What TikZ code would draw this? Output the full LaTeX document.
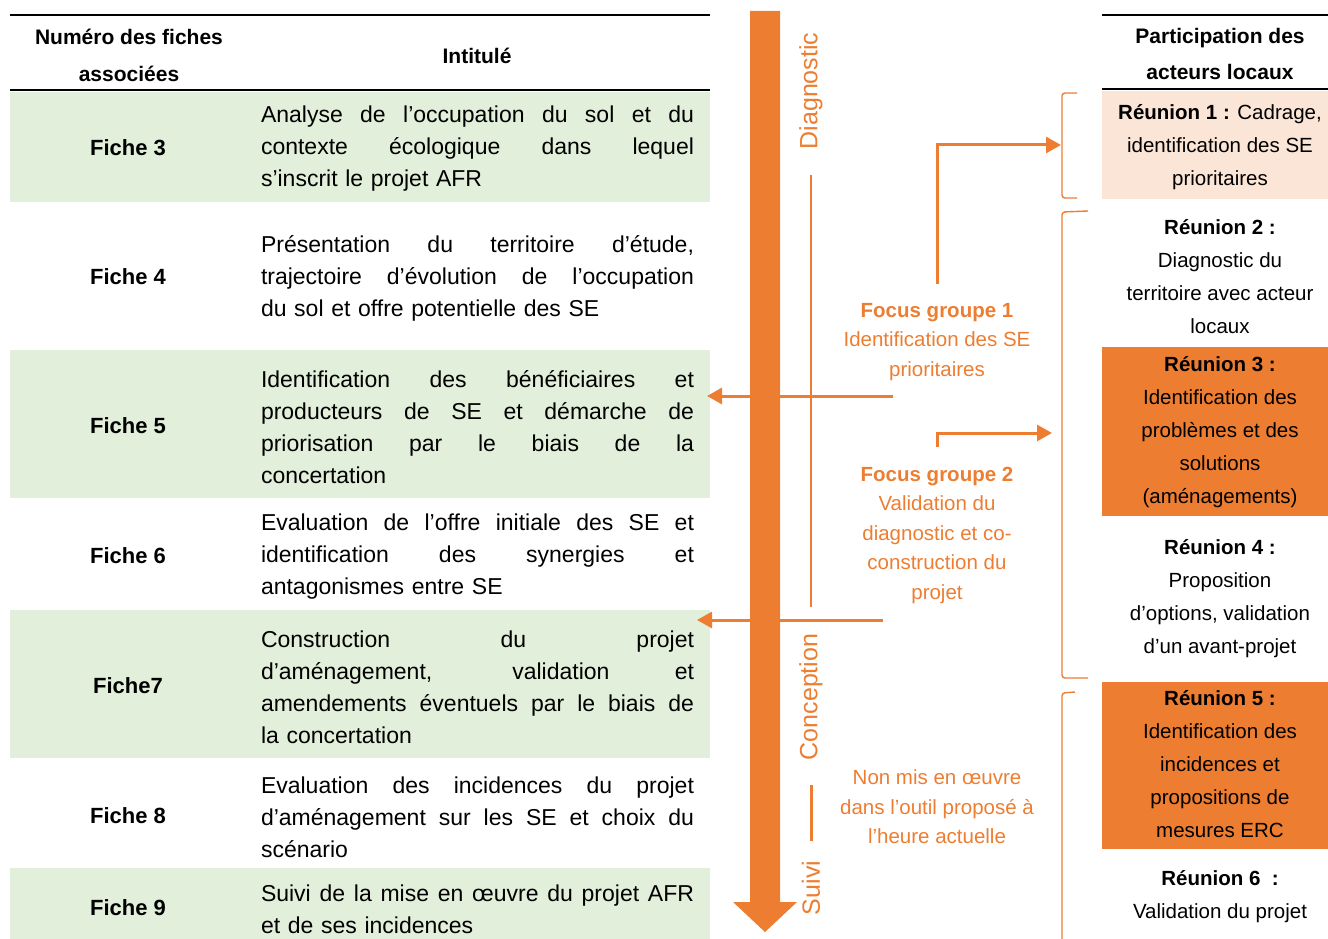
\documentclass[tikz,border=0pt]{standalone}
\usepackage{fontspec}
\setmainfont{Liberation Sans}
\usetikzlibrary{arrows.meta}
\definecolor{orng}{HTML}{ED7D31}
\definecolor{lgreen}{HTML}{E2EFDA}
\definecolor{peach}{HTML}{FBE5D6}
\newlength{\jw}
\setlength{\jw}{433pt}
\newcommand{\jl}[1]{\makebox[\jw][s]{\spaceskip=0pt\relax\xspaceskip=0pt\relax #1}}
\begin{document}
\begin{tikzpicture}[x=1pt,y=-1pt,
  rule/.style={line width=2.5pt, black},
  hdr/.style={font=\fontsize{21}{37}\selectfont\bfseries, align=center, inner sep=0pt},
  fichelbl/.style={font=\fontsize{22}{26}\selectfont\bfseries, inner sep=0pt},
  bodytxt/.style={font=\fontsize{23}{32}\selectfont, text width=433pt, align=left, inner sep=0pt},
  phase/.style={font=\fontsize{25}{30}\selectfont, text=orng, rotate=90, inner sep=0pt},
  orgtxt/.style={font=\fontsize{20.5}{29.5}\selectfont, text=orng, align=center, inner sep=0pt},
  rtxt/.style={font=\fontsize{20.5}{33}\selectfont, align=center, inner sep=0pt},
  orarrow/.style={orng, line width=3pt, -{Triangle[length=15pt,width=16pt]}},
  brace/.style={orng, line width=1.4pt, rounded corners=3pt},
]
\useasboundingbox (0,0) rectangle (1328,939);

% ---------- left table ----------
\fill[lgreen] (10,92) rectangle (710,202);
\fill[lgreen] (10,350) rectangle (710,498);
\fill[lgreen] (10,610) rectangle (710,758);
\fill[lgreen] (10,868) rectangle (710,939);
\draw[rule] (10,15) -- (710,15);
\draw[rule] (10,90) -- (710,90);

\node[hdr] (hnum) at (129,55.5) {Numéro des fiches\\associées};
\node[hdr] (hint) at (477,56) {Intitulé};

\node[fichelbl] (f3) at (128,148) {Fiche 3};
\node[fichelbl] (f4) at (128,277) {Fiche 4};
\node[fichelbl] (f5) at (128,426) {Fiche 5};
\node[fichelbl] (f6) at (128,556) {Fiche 6};
\node[fichelbl] (f7) at (128,686) {Fiche7};
\node[fichelbl] (f8) at (128,816) {Fiche 8};
\node[fichelbl] (f9) at (128,908) {Fiche 9};

\node[bodytxt] (t3) at (477.5,149) {\jl{Analyse de l’occupation du sol et du}\\
\jl{contexte écologique dans lequel}\\
s’inscrit le projet AFR};
\node[bodytxt] (t4) at (477.5,278) {\jl{Présentation du territoire d’étude,}\\
\jl{trajectoire d’évolution de l’occupation}\\
du sol et offre potentielle des SE};
\node[bodytxt] (t5) at (477.5,427) {\jl{Identification des bénéficiaires et}\\
\jl{producteurs de SE et démarche de}\\
\jl{priorisation par le biais de la}\\
concertation};
\node[bodytxt] (t6) at (477.5,557) {\jl{Evaluation de l’offre initiale des SE et}\\
\jl{identification des synergies et}\\
antagonismes entre SE};
\node[bodytxt] (t7) at (477.5,687) {\jl{Construction du projet}\\
\jl{d’aménagement, validation et}\\
\jl{amendements éventuels par le biais de}\\
la concertation};
\node[bodytxt] (t8) at (477.5,817) {\jl{Evaluation des incidences du projet}\\
\jl{d’aménagement sur les SE et choix du}\\
scénario};
\node[bodytxt] (t9) at (477.5,909) {\jl{Suivi de la mise en œuvre du projet AFR}\\
et de ses incidences};

% ---------- central timeline ----------
\fill[orng] (750,11) -- (780,11) -- (780,902) -- (797,902) -- (765,932)
  -- (733,902) -- (750,902) -- cycle;

\node[phase] (diag) at (811,91) {Diagnostic};
\node[phase] (conc) at (811,697) {Conception};
\node[phase] (suiv) at (811,888) {Suivi};
\draw[orng, line width=2pt] (811,175) -- (811,607);
\draw[orng, line width=3pt] (811,785) -- (811,841);

\coordinate (a1s) at (893,396);
\coordinate (a1e) at (707,396);
\coordinate (a2s) at (883,620);
\coordinate (a2e) at (697,620);
\draw[orarrow] (a1s) -- (a1e);
\draw[orarrow] (a2s) -- (a2e);

\node[orgtxt] (fg1) at (937,342) {\textbf{Focus groupe 1}\\Identification des SE\\prioritaires};
\node[orgtxt] (fg2) at (937,535) {\textbf{Focus groupe 2}\\Validation du\\diagnostic et co-\\construction du\\projet};
\node[orgtxt] (nmo) at (937,807) {Non mis en œuvre\\dans l’outil proposé à\\l’heure actuelle};

\coordinate (e1s) at (937,284);
\coordinate (e1e) at (1061,145);
\coordinate (e2s) at (937,447);
\coordinate (e2e) at (1052,433);
\draw[orarrow] (e1s) |- (e1e);
\draw[orarrow] (e2s) |- (e2e);

% ---------- right column ----------
\fill[peach] (1102,91) rectangle (1328,199);
\fill[orng] (1102,347) rectangle (1328,516);
\fill[orng] (1102,682) rectangle (1328,849);
\draw[rule] (1102,15) -- (1328,15);
\draw[rule] (1102,89) -- (1328,89);

\node[hdr, font=\fontsize{21}{36}\selectfont\bfseries] (hpart) at (1220,54) {Participation des\\acteurs locaux};

\node[rtxt] (r1) at (1220,147) {\textbf{Réunion 1 :} Cadrage,\\identification des SE\\prioritaires};
\node[rtxt] (r2) at (1220,276.5) {\textbf{Réunion 2 :}\\Diagnostic du\\territoire avec acteur\\locaux};
\node[rtxt] (r3) at (1220,432) {\textbf{Réunion 3 :}\\Identification des\\problèmes et des\\solutions\\(aménagements)};
\node[rtxt] (r4) at (1220,598.5) {\textbf{Réunion 4 :}\\Proposition\\d’options, validation\\d’un avant-projet};
\node[rtxt] (r5) at (1220,764) {\textbf{Réunion 5 :}\\Identification des\\incidences et\\propositions de\\mesures ERC};
\node[rtxt] (r6) at (1220,896.5) {\textbf{Réunion 6~ :}\\Validation du projet};

\draw[brace] (1077,93) -- (1062,93) -- (1062,198) -- (1077,198);
\draw[brace] (1088,211) -- (1062,212) -- (1062,678) -- (1088,678);
\draw[brace] (1075,692) -- (1062,693) -- (1062,939);
\end{tikzpicture}
\end{document}
